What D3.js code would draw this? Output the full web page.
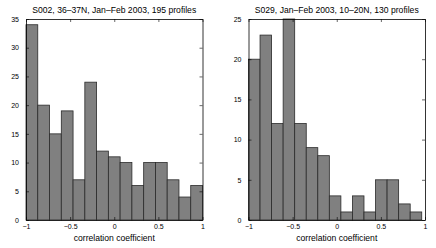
<!DOCTYPE html>
<html>
<head>
<meta charset="utf-8">
<script src="https://cdn.jsdelivr.net/npm/d3@7"></script>
<style>
body { margin: 0; background: #fff; }
text { font-family: "Liberation Sans", Arial, sans-serif; fill: #000; }
.tick text { font-size: 7px; }
</style>
</head>
<body>
<script>
// histogram counts
var countsA = [34, 20, 15, 19, 7, 24, 12, 11, 10, 6, 10, 10, 7, 4, 6];
var countsB = [20, 23, 12, 25, 12, 9, 8, 3, 1, 3, 1, 5, 5, 2, 1];
var binRangeA = [-1, 1];
var binRangeB = [-1, 0.963];
var xTicks = [-1, -0.5, 0, 0.5, 1];
var yTicksA = [0, 5, 10, 15, 20, 25, 30, 35];
var yTicksB = [0, 5, 10, 15, 20, 25];
var titleA = "S002, 36\u201337N, Jan\u2013Feb 2003, 195 profiles";
var titleB = "S029, Jan\u2013Feb 2003, 10\u201320N, 130 profiles";
var xLabel = "correlation coefficient";

var svg = d3.select("body").append("svg")
    .attr("width", 436)
    .attr("height", 248);

function panel(left, right, counts, range, yTicks, title) {
    var top = 19, bottom = 220;
    var x = d3.scaleLinear().domain([-1, 1]).range([left, right]);
    var y = d3.scaleLinear().domain([0, d3.max(yTicks)]).range([bottom, top]);
    var w = (range[1] - range[0]) / counts.length;
    var bins = counts.map(function(c, i) {
        return { x0: range[0] + i * w, x1: range[0] + (i + 1) * w, n: c };
    });
    var g = svg.append("g");

    g.selectAll("rect.bar").data(bins).enter().append("rect")
        .attr("class", "bar")
        .attr("x", function(d) { return x(d.x0); })
        .attr("y", function(d) { return y(d.n); })
        .attr("width", function(d) { return x(d.x1) - x(d.x0); })
        .attr("height", function(d) { return y(0) - y(d.n); })
        .attr("fill", "#808080")
        .attr("stroke", "#2a2a2a")
        .attr("stroke-width", 0.8);

    // axes (ticks inside, like matlab)
    g.append("g").attr("transform", "translate(0," + bottom + ")")
        .call(d3.axisBottom(x).tickValues(xTicks).tickSizeInner(-3).tickSizeOuter(0).tickPadding(4)
            .tickFormat(function(d) { return d3.format("")(d).replace("-", "\u2212"); }));
    g.append("g").attr("transform", "translate(0," + top + ")")
        .call(d3.axisTop(x).tickValues(xTicks).tickSizeInner(-3).tickSizeOuter(0).tickFormat(""));
    g.append("g").attr("transform", "translate(" + left + ",0)")
        .call(d3.axisLeft(y).tickValues(yTicks).tickSizeInner(-3).tickSizeOuter(0).tickPadding(7));
    g.append("g").attr("transform", "translate(" + right + ",0)")
        .call(d3.axisRight(y).tickValues(yTicks).tickSizeInner(-3).tickSizeOuter(0).tickFormat(""));
    g.selectAll(".domain").attr("stroke", "#000").attr("stroke-width", 0.8);
    g.selectAll(".tick line").attr("stroke", "#000").attr("stroke-width", 0.6);

    g.append("text")
        .attr("x", (left + right) / 2)
        .attr("y", 13)
        .attr("text-anchor", "middle")
        .style("font-size", "8.6px")
        .text(title);
    g.append("text")
        .attr("x", (left + right) / 2)
        .attr("y", 241)
        .attr("text-anchor", "middle")
        .style("font-size", "8.6px")
        .text(xLabel);
}

panel(26, 202.5, countsA, binRangeA, yTicksA, titleA);
panel(248.5, 425, countsB, binRangeB, yTicksB, titleB);
</script>
</body>
</html>
